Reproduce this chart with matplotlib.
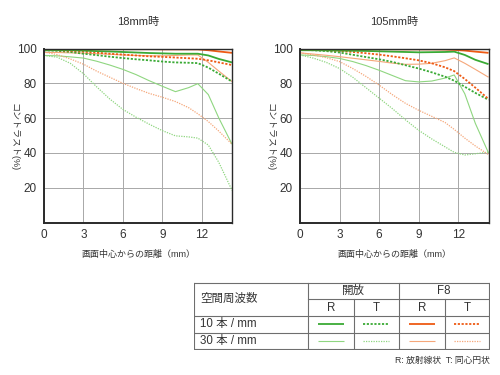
import matplotlib
matplotlib.use("Agg")
import matplotlib.pyplot as plt

plt.rcParams['font.family'] = ['Liberation Sans', 'Noto Sans CJK JP', 'DejaVu Sans']

# ---------------- data ----------------
X = [0, 1, 2, 3, 4, 5, 6, 7, 8, 9, 10, 11, 11.7, 12.5, 13.3, 14.3]

# 18mm
w_open_R10 = [99, 99, 99, 98.8, 98.5, 98.3, 98, 97.7, 97.4, 97.2, 97, 97, 97, 96, 94, 92]
w_open_T10 = [99, 98.7, 98, 97, 96.2, 95.3, 94.5, 93.8, 93.2, 92.5, 92, 91.8, 91.6, 89, 85.5, 81]
w_f8_R10 = [99.6, 99.6, 99.6, 99.6, 99.6, 99.6, 99.6, 99.6, 99.6, 99.5, 99.5, 99.5, 99.5, 99, 98.3, 97.5]
w_f8_T10 = [99.2, 99, 98.6, 98.2, 97.6, 97, 96.5, 96, 95.5, 95.2, 94.8, 94.4, 94.1, 93.2, 92, 90.5]
w_open_R30 = [96, 95.8, 95.2, 94.5, 92.7, 90.5, 88, 85, 81.5, 78.3, 75.2, 77.5, 79.8, 73.5, 60, 45]
w_open_T30 = [96, 95, 91.5, 85.5, 78, 71, 65, 60.5, 56.5, 52.8, 49.8, 49.2, 48.5, 44.5, 34.5, 18.5]
w_f8_R30 = [97.8, 97.7, 97.5, 97.3, 97, 96.7, 96.3, 96, 95.8, 95.8, 96, 96.3, 96.3, 92, 87, 81]
w_f8_T30 = [98, 96.5, 94, 91, 87, 83.5, 80, 77, 74.2, 72, 69.5, 66, 62.5, 58, 52.5, 45]

# 105mm
t_open_R10 = [99, 99, 98.9, 98.8, 98.7, 98.6, 98.4, 98.2, 98, 97.8, 97.9, 98, 98.2, 96.3, 93.5, 91]
t_open_T10 = [99.2, 99, 98.5, 97.7, 96.4, 95.1, 93.8, 92.3, 90.4, 88.5, 86.3, 83.8, 81.5, 78, 74.5, 70.5]
t_f8_R10 = [99.6, 99.6, 99.6, 99.6, 99.6, 99.6, 99.6, 99.6, 99.5, 99.5, 99.5, 99.4, 99.2, 98.8, 98.2, 97.5]
t_f8_T10 = [99.6, 99.4, 99, 98.6, 98, 97.3, 96.5, 95.5, 94.4, 93.2, 91.5, 89.2, 87, 82.5, 77.5, 71]
t_open_R30 = [96.3, 96, 95.3, 94.3, 92.5, 90.2, 87.5, 84.5, 81.5, 80.8, 81.3, 83, 84.8, 74, 57, 40]
t_open_T30 = [96.3, 94.5, 92, 88.5, 83.5, 77.5, 71.5, 65.5, 59, 53, 48, 43.5, 40.3, 38.8, 39.5, 40.5]
t_f8_R30 = [97.5, 96.8, 96.1, 95.3, 94.4, 93.5, 92.6, 91.6, 90.9, 91, 91.5, 93, 94.6, 91.5, 88, 83.5]
t_f8_T30 = [97.5, 96.3, 94.7, 92.5, 88.5, 84, 79, 73.5, 68.5, 64.5, 61, 57.5, 53.5, 48.5, 44, 39]

xticks = [0, 3, 6, 9, 12]
yticks = [20, 40, 60, 80, 100]
titles = ["18mm時", "105mm時"]
xlabel = "画面中心からの距離（mm）"
ylabel = "コントラスト(%)"

# ---------------- styles ----------------
GREEN = "#3aaa35"
GREEN_L = "#8fd680"
ORANGE = "#ee5a14"
ORANGE_L = "#f5a77a"
DOT = (0, (1.2, 0.9))
DOT_T = (0, (1.0, 1.0))
TXT = "#333333"

series_style = [
    ("open_R30", GREEN_L, 0.8, "-"),
    ("open_T30", GREEN_L, 0.9, DOT_T),
    ("f8_R30", ORANGE_L, 0.8, "-"),
    ("f8_T30", ORANGE_L, 0.9, DOT_T),
    ("open_T10", GREEN, 1.3, DOT),
    ("f8_T10", ORANGE, 1.3, DOT),
    ("open_R10", GREEN, 1.3, "-"),
    ("f8_R10", ORANGE, 1.3, "-"),
]

wide = dict(open_R10=w_open_R10, open_T10=w_open_T10, f8_R10=w_f8_R10, f8_T10=w_f8_T10,
            open_R30=w_open_R30, open_T30=w_open_T30, f8_R30=w_f8_R30, f8_T30=w_f8_T30)
tele = dict(open_R10=t_open_R10, open_T10=t_open_T10, f8_R10=t_f8_R10, f8_T10=t_f8_T10,
            open_R30=t_open_R30, open_T30=t_open_T30, f8_R30=t_f8_R30, f8_T30=t_f8_T30)

W, H = 500, 375
fig = plt.figure(figsize=(5, 3.75), dpi=100)


def px_axes(x0, y0, x1, y1):
    return fig.add_axes([x0 / W, 1 - y1 / H, (x1 - x0) / W, (y1 - y0) / H])


panels = [(px_axes(44, 48.5, 232, 222.5), wide, titles[0]),
          (px_axes(300, 48.5, 488.5, 222.5), tele, titles[1])]

for ax, data, title in panels:
    ax.set_xlim(0, 14.3)
    ax.set_ylim(0, 100)
    ax.set_xticks(xticks)
    ax.set_yticks(yticks)
    ax.set_yticklabels([str(v) for v in yticks])
    ax.grid(True, color="#a8a8a8", lw=0.7)
    ax.set_axisbelow(True)
    ax.tick_params(length=0, labelsize=8.5, labelcolor=TXT, pad=5)
    for name, col, lw, ls in series_style:
        ax.plot(X, data[name], color=col, lw=lw, ls=ls, solid_capstyle="butt")
    for s in ax.spines.values():
        s.set_color("#2a2a2a")
        s.set_linewidth(1.0)
    ax.spines["left"].set_linewidth(1.4)
    ax.spines["bottom"].set_linewidth(1.4)
    ax.set_title(title, fontsize=8, color=TXT, pad=17)
    ax.set_xlabel(xlabel, fontsize=6.5, color=TXT, labelpad=6)
    ax.set_ylabel(ylabel, fontsize=6.5, color=TXT, rotation=-90, va="center", ha="center")
    ax.yaxis.set_label_coords(-0.16, 0.49)

# ---------------- legend table ----------------
tax = px_axes(194, 282, 489.5, 349.5)
tax.set_xlim(194, 489.5)
tax.set_ylim(349.5, 282)
tax.axis("off")
GRID_C = "#6e6e6e"
cols = [194, 308, 353.5, 399, 444.5, 489]
rows = [282.5, 299.2, 316, 332.7, 349]
for y in [rows[0], rows[2], rows[3], rows[4]]:
    tax.plot([cols[0], cols[-1]], [y, y], color=GRID_C, lw=0.8)
tax.plot([cols[1], cols[-1]], [rows[1], rows[1]], color=GRID_C, lw=0.8)
for x in [cols[0], cols[1], cols[3], cols[5]]:
    tax.plot([x, x], [rows[0], rows[4]], color=GRID_C, lw=0.8)
for x in [cols[2], cols[4]]:
    tax.plot([x, x], [rows[1], rows[4]], color=GRID_C, lw=0.8)

fs = 8.3
tax.text(200, (rows[0] + rows[2]) / 2, "空間周波数", fontsize=fs, color=TXT, va="center", ha="left")
tax.text((cols[1] + cols[3]) / 2, (rows[0] + rows[1]) / 2, "開放", fontsize=fs, color=TXT, va="center", ha="center")
tax.text((cols[3] + cols[5]) / 2, (rows[0] + rows[1]) / 2, "F8", fontsize=fs, color=TXT, va="center", ha="center")
for i, lab in enumerate(["R", "T", "R", "T"]):
    tax.text((cols[i + 1] + cols[i + 2]) / 2, (rows[1] + rows[2]) / 2, lab, fontsize=fs, color=TXT,
             va="center", ha="center")
tax.text(200, (rows[2] + rows[3]) / 2, "10 本 / mm", fontsize=fs, color=TXT, va="center", ha="left")
tax.text(200, (rows[3] + rows[4]) / 2, "30 本 / mm", fontsize=fs, color=TXT, va="center", ha="left")

row10 = [("open_R10", GREEN, 1.3, "-"), ("open_T10", GREEN, 1.3, DOT),
         ("f8_R10", ORANGE, 1.3, "-"), ("f8_T10", ORANGE, 1.3, DOT)]
row30 = [("open_R30", GREEN_L, 0.8, "-"), ("open_T30", GREEN_L, 0.9, DOT_T),
         ("f8_R30", ORANGE_L, 0.8, "-"), ("f8_T30", ORANGE_L, 0.9, DOT_T)]
for r, styles in enumerate([row10, row30]):
    yc = (rows[2 + r] + rows[3 + r]) / 2
    for i, (_, col, lw, ls) in enumerate(styles):
        xc = (cols[i + 1] + cols[i + 2]) / 2
        tax.plot([xc - 13, xc + 13], [yc, yc], color=col, lw=lw, ls=ls, solid_capstyle="butt")

fig.text(490 / W, 1 - 360 / H, "R: 放射線状  T: 同心円状", fontsize=6.3, color=TXT,
         ha="right", va="center")

fig.savefig("out.png", dpi=100)
